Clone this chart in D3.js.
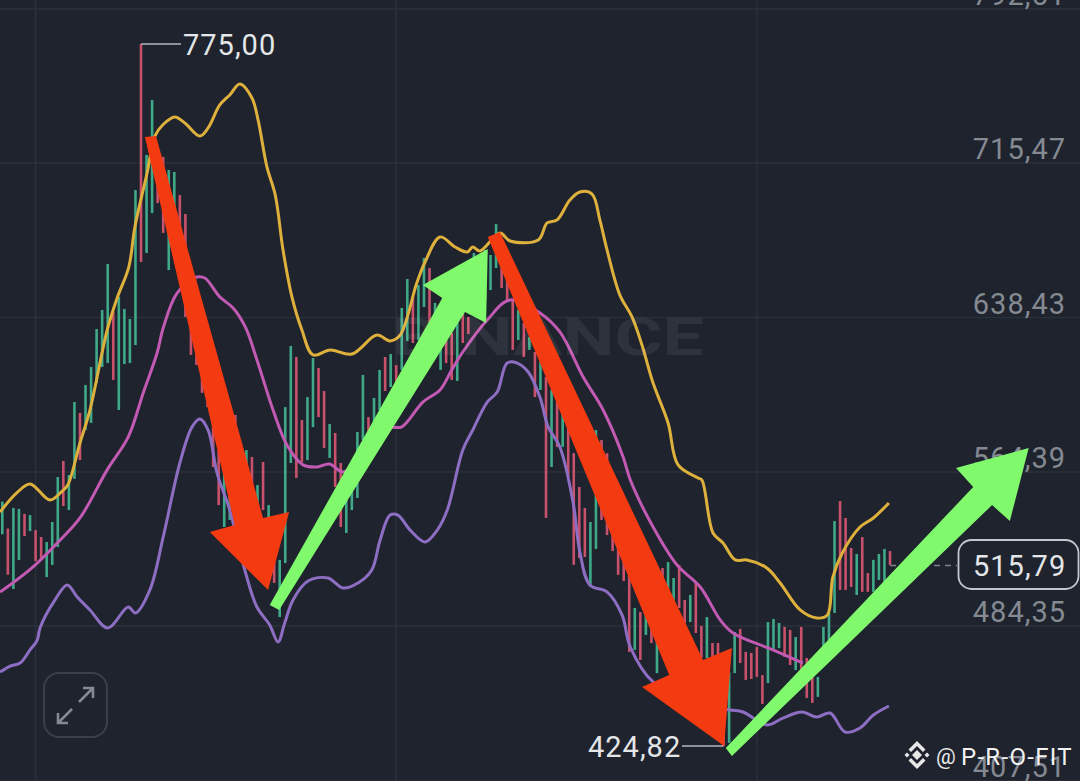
<!DOCTYPE html>
<html>
<head>
<meta charset="utf-8">
<script src="https://cdn.jsdelivr.net/npm/d3@7/dist/d3.min.js"></script>
<style>
  html, body { margin: 0; padding: 0; background: #1e232e; }
  svg { display: block; }
</style>
</head>
<body>
<svg id="chart" width="1080" height="781"></svg>
<script>
// price axis labels (labels are not evenly spaced in price, they are in pixels)
var yTicks = [792.51, 715.47, 638.43, 564.39, 484.35, 407.51];

// candles, one per index
var candleHigh = [
  549, 535, 545.7, 545.2, 542.6, 542, 534.2, 530.6, 528, 538.4,
  561.8, 569.7, 562.8, 597.9, 592.7, 606.1, 614.7, 632.9, 642.2, 665.1,
  641.1, 648.7, 642.7, 637.7, 702, 775, 719.5, 747, 722, 718.5,
  712, 711, 699.5, 690, 647.2, 637.2, 627.6, 618, 603.7, 574.9,
  563.9, 565.4, 591.7, 571, 574.9, 571.6, 557.6, 569.2, 547.2, 529,
  518.7, 595.5, 624.8, 619.5, 589.3, 600.3, 619, 614.2, 603.2, 587.4,
  583.1, 568.7, 551.4, 555, 583.6, 610.9, 590.7, 599.9, 613.3, 619.5,
  620.9, 615.6, 643.2, 657.6, 648.7, 654.6, 668.1, 663.1, 645.7, 637.2,
  627.6, 631, 637.2, 640.7, 638.7, 670.6, 664.6, 672.1, 669.6, 685,
  663.6, 662.1, 647.2, 642.2, 635.8, 629.1, 621.9, 617.1, 609.9, 603.7,
  597.9, 592.7, 585.9, 573.4, 556.6, 545.7, 538.4, 584.5, 579.7, 573.4,
  532.7, 524.9, 521.3, 510.9, 493.7, 491.6, 491.1, 487.5, 477.4, 514.5,
  517.6, 509.3, 516.1, 497.9, 500.5, 507.2, 484.4, 489, 475.9, 475.9,
  467.5, 461.5, 481.4, 482.9, 471.5, 471, 474, 460, 486.4, 488,
  485.9, 483.9, 482.4, 478.9, 483.9, 468.5, 459.1, 459.1, 483.9, 491.1,
  538.9, 549.3, 540.5, 524.9, 521.8, 530.6, 511.9, 518.7, 521.8, 524.4, 523.3
];
var candleLow = [
  532, 511, 503.6, 518.6, 531.1, 533.7, 518.1, 518.6, 509.8, 516.1,
  525.4, 546.7, 544.6, 560.8, 570.1, 584.5, 587.9, 607, 614.7, 616.6,
  608.5, 594.1, 616.1, 616.6, 625.2, 666.1, 670.6, 690.5, 695.5, 680.6,
  662.1, 682.1, 677.1, 638.7, 620.5, 615.7, 602.3, 595.5, 566.8, 547.2,
  535.8, 539.5, 555, 549.8, 544.6, 551.4, 541, 544.6, 516.1, 506.7,
  489, 517.1, 568.7, 561.3, 569.2, 570.1, 585.9, 590.7, 575.9, 571.1,
  556.6, 535.8, 532.7, 544.6, 550.9, 579.7, 577.3, 582.1, 594.1, 603.2,
  605.1, 601.3, 613.3, 627.1, 626.2, 627.6, 643.7, 636.3, 630, 613.3,
  616.6, 608.5, 608, 626.2, 630.5, 647.2, 642.2, 647.2, 652.1, 663.1,
  653.1, 647.2, 622.9, 627.6, 619.5, 622.9, 600.3, 603.7, 540.5, 566.8,
  576.4, 576.4, 561.8, 516.1, 519.7, 520.2, 504.6, 524.4, 539.5, 531.6,
  523.3, 510.9, 507.7, 471.5, 472.5, 467.5, 479.9, 475.9, 461, 487.5,
  487.5, 497.9, 493.7, 485.9, 486.4, 480.9, 468.5, 468.5, 469, 469,
  424.82, 426.4, 461, 466, 457.6, 458.1, 459.1, 445.7, 456.1, 472.5,
  473.4, 469, 465, 462.5, 461, 448.7, 446.2, 449.2, 473.9, 477.4,
  491.1, 503.1, 503.1, 504.6, 500.5, 502.1, 502.1, 502.1, 508.3, 504.6, 516.1
];
// g = rising, r = falling
var candleDir = ("grggrgrrgg" + "grggrggggg" + "rggggrggrr" + "ggrrrrrrrr" +
  "ggrggrgrgr" + "gggrrggrrg" + "rrggggrggr" + "grggrggrgg" +
  "rrgrrggggg" + "rrrgrgrgrg" + "rgrrrrggrr" + "rrrrgrgrgr" +
  "ggrrgrrgrr" + "rggrrrrrgg" + "grrgrrrggg" + "grrrgrrgggr").split("");

var maYellow = [
  [-0.4, 543.6], [2.6, 553.5], [5, 558.2], [8.6, 549.8], [10.8, 554.5], [11.8, 557.6],
  [14, 578.3], [15.8, 594.1], [18.9, 632.4], [20.7, 648.2], [22.8, 663.6], [23.9, 683.6],
  [26.1, 710.5], [27.5, 728.9], [28.9, 734.5], [31.1, 738.5], [32.9, 735.5], [35.6, 729],
  [37.1, 733], [39.2, 744.5], [41, 749.5], [42.8, 755], [45, 748], [46.1, 737],
  [47.7, 713.5], [49.2, 699.5], [50.6, 672.1], [52.2, 648.7], [54, 632.4], [56, 620.5],
  [59.1, 622.9], [63, 620.9], [67.5, 630], [69.9, 627.2], [71.7, 630], [74.7, 655.6],
  [76.2, 666.1], [78.9, 678.6], [81.6, 673.6], [83.8, 671.1], [84.8, 673.6], [86.1, 671.6],
  [89.7, 680.6], [91.5, 676.6], [96.6, 677.1], [98.2, 685.6], [100, 687.1], [102.3, 697],
  [104.1, 701], [106.3, 700], [107.7, 687.1], [109, 672.1], [111.3, 649.7], [113.5, 638.7],
  [115.3, 625.2], [117.3, 607], [120, 587.9], [121.8, 567.8], [125.4, 561.3], [126.1, 560.2],
  [128.1, 532.7], [129.9, 527.5], [132.1, 518.7], [134.2, 518.7], [137.8, 514.5], [140.2, 506.7],
  [143.8, 492.7], [146.8, 488.5], [148.7, 490], [149.7, 509.8], [151.4, 522.3], [154.6, 535.8],
  [157, 540.5], [159.8, 548.3]
];
var maPink = [
  [-0.4, 502], [5.5, 515], [9.9, 527.5], [14, 540.5], [18.9, 565.4], [22.7, 581.2],
  [25.4, 602.3], [27.9, 621.4], [29, 633.4], [31.5, 650.6], [35.1, 658.6], [36.5, 658.1],
  [39.2, 648.7], [41.6, 643.2], [43.8, 633.9], [45.9, 618.1], [48.8, 594.1], [51.3, 577.3],
  [54.2, 567.8], [56.7, 566.8], [59, 568.2], [61.4, 564.4], [65.8, 573.9], [69.9, 585.5],
  [72, 586], [75.8, 597.9], [78.9, 603.7], [81, 613.3], [83, 621.9], [87.4, 637.2],
  [91.5, 647.2], [96.9, 640.7], [100.5, 631.5], [104.7, 609.9], [108.3, 594.1], [111.9, 571.6],
  [113.2, 560.2], [117.3, 535.8], [121.6, 516.1], [125.8, 504.6], [129.4, 487.5], [131.7, 480.9],
  [138.9, 472.5], [144.3, 466]
];
var maPurple = [
  [-0.4, 461.5], [1.4, 464.5], [3.2, 466], [5, 472.5], [6.3, 477.4], [6.8, 483.4],
  [9.5, 497.9], [11.7, 505.7], [13.5, 499.4], [15.8, 492.7], [19, 483.4], [22.7, 494.2],
  [24, 491.1], [26.6, 503.1], [29, 530.6], [32, 568.7], [34.2, 586], [35.6, 589.8],
  [37.1, 584.5], [38.7, 563.9], [41, 544.6], [43.7, 513.5], [45.9, 494.2], [48.2, 484.9],
  [49.7, 476.4], [50.9, 485.9], [52.4, 497.9], [55.1, 507.7], [58.7, 509.3], [61.4, 504.1],
  [64.1, 506.7], [66.6, 513.5], [68.1, 529.1], [69.9, 542], [71.3, 542], [73.5, 534.2],
  [76.2, 528], [78.4, 534.2], [80.2, 544.6], [83, 574.9], [84.8, 584.5], [87.4, 597.9],
  [89.2, 602.7], [91, 616.6], [92.8, 616.6], [94.8, 612.3], [96.9, 600.3], [98.4, 585.9],
  [100.5, 576.4], [102.9, 548.3], [104.1, 522.8], [105.9, 505.7], [109, 502.1], [111.7, 490.1],
  [113.2, 473.9], [117.3, 456.6], [125.8, 445.2], [131.2, 442.7], [133.5, 441.7], [137.8, 435.3],
  [140.7, 438.7], [144.1, 441.7], [146.8, 439.2], [149.2, 441.2], [151.9, 431.8], [154.6, 433.8],
  [157, 440.2], [159.8, 444.7]
];

// hand drawn arrows on top of the chart, outline as [index, price]:
// tail, neck, wing, tip, wing, neck, tail
var arrowRed1 = [[25.7, 728.5], [41.9, 536.8], [37.4, 533.2], [47.9, 503.1], [51.7, 543.6], [47, 540.5], [27.7, 729]];
var arrowGreen1 = [[48.2, 495.3], [79.3, 648.2], [75.8, 654.6], [87.5, 672.6], [87.2, 635.8], [83.4, 641.2], [49.9, 492.7]];
var arrowRed2 = [[87.5, 678.6], [120.2, 460], [115.3, 454.1], [130.1, 424.9], [131.5, 473.4], [126.3, 467.5], [89.7, 681.1]];
var arrowGreen2 = [[130.4, 423.9], [175, 556.6], [171.9, 566.3], [185, 575.9], [181.6, 538.9], [178.4, 547.2], [131.5, 419.9]];

var highPrice = 775.00, lowPrice = 424.82, lastPrice = 515.79;
var gridIndex = [6, 71, 136];

var colors = {
  bg: "#1e232e", grid: "#2b303b", tick: "#858a92", text: "#e4e6e8",
  up: "#3fa988", down: "#c8516c", yellow: "#deb03c", pink: "#c25ab3", purple: "#8d6ec2",
  red: "#f43a10", green: "#80f96d"
};

var svg = d3.select("#chart");
var x = d3.scaleLinear().domain([0, 160]).range([2.3, 890]);
var y = d3.scaleLinear().domain(yTicks).range([9, 163, 317.5, 472, 626, 781]);
var comma = function(v) { return v.toFixed(2).replace(".", ","); };

svg.append("rect").attr("width", 1080).attr("height", 781).attr("fill", colors.bg);

// grid
var grid = svg.append("g");
grid.selectAll("line.h").data(yTicks).enter().append("line")
  .attr("class", "h").attr("x1", 0).attr("x2", 1080)
  .attr("y1", function(d) { return y(d); }).attr("y2", function(d) { return y(d); })
  .attr("stroke", colors.grid).attr("stroke-width", 1.5);
grid.selectAll("line.v").data(gridIndex).enter().append("line")
  .attr("class", "v").attr("y1", 0).attr("y2", 781)
  .attr("x1", function(d) { return x(d); }).attr("x2", function(d) { return x(d); })
  .attr("stroke", colors.grid).attr("stroke-width", 1.5);

// candles
svg.append("g").selectAll("rect").data(candleHigh).enter().append("rect")
  .attr("x", function(d, i) { return x(i) - 1.3; })
  .attr("width", 2.6)
  .attr("y", function(d) { return y(d); })
  .attr("height", function(d, i) { return y(candleLow[i]) - y(d); })
  .attr("fill", function(d, i) { return candleDir[i] == "g" ? colors.up : colors.down; });

// moving averages
var line = d3.line()
  .x(function(d) { return x(d[0]); })
  .y(function(d) { return y(d[1]); })
  .curve(d3.curveCatmullRom.alpha(0.5));
[[maPurple, colors.purple], [maPink, colors.pink], [maYellow, colors.yellow]].forEach(function(s) {
  svg.append("path").attr("d", line(s[0])).attr("fill", "none")
    .attr("stroke", s[1]).attr("stroke-width", 3).attr("stroke-linejoin", "round");
});

// exchange watermark, see-through over the candles
svg.append("text").attr("x", 392).attr("y", 355)
  .attr("font-family", "Roboto").attr("font-weight", 700).attr("font-size", 52)
  .attr("textLength", 312).attr("lengthAdjust", "spacingAndGlyphs")
  .attr("fill", "#ffffff").attr("fill-opacity", 0.07).text("BINANCE");

// price axis
var axis = d3.axisRight(y).tickValues(yTicks).tickSize(0).tickFormat(comma);
var axisG = svg.append("g").attr("transform", "translate(1066,0)").call(axis);
axisG.select(".domain").remove();
axisG.selectAll("text")
  .attr("x", 0).attr("dy", -4.5).attr("text-anchor", "end")
  .attr("font-family", "Roboto").attr("font-size", 29).attr("letter-spacing", 1)
  .attr("fill", colors.tick);

// high / low labels
var labelFont = function(t) {
  t.attr("font-family", "Roboto").attr("font-size", 29).attr("letter-spacing", 1).attr("fill", colors.text);
};
svg.append("line").attr("x1", x(25)).attr("x2", 181)
  .attr("y1", y(highPrice)).attr("y2", y(highPrice))
  .attr("stroke", "#b4b7bc").attr("stroke-width", 1.5);
svg.append("text").attr("x", 183).attr("y", y(highPrice) + 10.5).text(comma(highPrice)).call(labelFont);
svg.append("line").attr("x1", 682).attr("x2", x(130))
  .attr("y1", y(lowPrice)).attr("y2", y(lowPrice))
  .attr("stroke", "#b4b7bc").attr("stroke-width", 1.5);
svg.append("text").attr("x", 588).attr("y", y(lowPrice) + 11).text(comma(lowPrice)).call(labelFont);

// last price tag
svg.append("line").attr("x1", x(160)).attr("x2", 957)
  .attr("y1", y(lastPrice)).attr("y2", y(lastPrice))
  .attr("stroke", "#7d828b").attr("stroke-width", 1.5).attr("stroke-dasharray", "6 5");
svg.append("rect").attr("x", 958.5).attr("y", y(lastPrice) - 25.5).attr("width", 120).attr("height", 49)
  .attr("rx", 13).attr("fill", colors.bg).attr("stroke", "#c3c6ca").attr("stroke-width", 1.8);
svg.append("text").attr("x", 973).attr("y", y(lastPrice) + 10).text(comma(lastPrice)).call(labelFont);

// expand button
var expand = svg.append("g");
expand.append("rect").attr("x", 44).attr("y", 673).attr("width", 63).attr("height", 64).attr("rx", 15)
  .attr("fill", "none").attr("stroke", "#3a3f49").attr("stroke-width", 2);
expand.append("path").attr("d", "M58,723 L72,709 M58,713 V723 H68 M79,702 L93,688 M83,688 H93 V698")
  .attr("fill", "none").attr("stroke", colors.tick).attr("stroke-width", 2.6);

// arrows
[[arrowRed1, colors.red], [arrowGreen1, colors.green], [arrowRed2, colors.red], [arrowGreen2, colors.green]].forEach(function(a) {
  svg.append("polygon")
    .attr("points", a[0].map(function(p) { return [x(p[0]), y(p[1])]; }).join(" "))
    .attr("fill", a[1]);
});

// feed credit, bottom right
var logo = svg.append("g").attr("transform", "translate(917,755)").attr("fill", "#e8e8e8");
logo.append("path").attr("d", "M0,-5 L5,0 L0,5 L-5,0 Z M-10,-2.5 L-7.5,0 L-10,2.5 L-12.5,0 Z M10,-2.5 L12.5,0 L10,2.5 L7.5,0 Z" +
  " M0,-14 L8.5,-5.5 L6,-3 L0,-9 L-6,-3 L-8.5,-5.5 Z M0,14 L8.5,5.5 L6,3 L0,9 L-6,3 L-8.5,5.5 Z");
svg.append("text").attr("x", 936).attr("y", 764).attr("font-family", "Roboto")
  .attr("font-size", 22).attr("fill", "#e8e8e8").text("@");
svg.append("text").attr("x", 961).attr("y", 765).attr("font-family", "Roboto")
  .attr("font-size", 24).attr("letter-spacing", 1.3).attr("fill", "#f2f2f2").text("P-R-O-FIT");
</script>
</body>
</html>
